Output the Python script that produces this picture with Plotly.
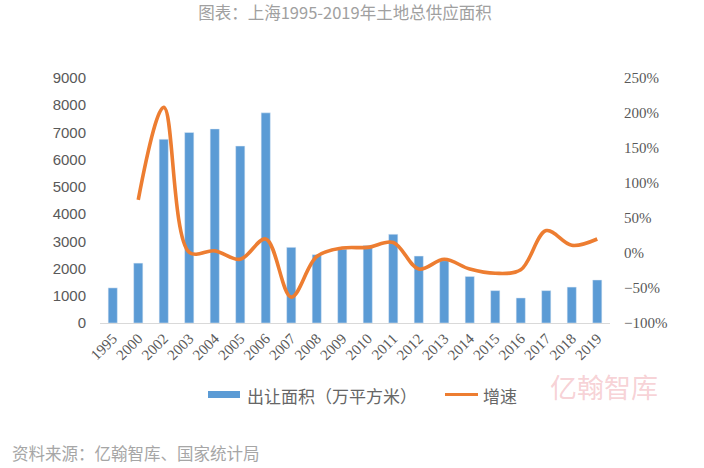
import plotly.graph_objects as go

years = ["1995", "2000", "2002", "2003", "2004", "2005", "2006", "2007", "2008", "2009",
         "2010", "2011", "2012", "2013", "2014", "2015", "2016", "2017", "2018", "2019"]
area = [1290, 2200, 6750, 7000, 7130, 6500, 7720, 2780, 2510, 2710,
        2850, 3260, 2460, 2290, 1710, 1190, 920, 1190, 1320, 1580]
growth_years = years[1:]
growth = [76, 208, 1, 3, -9, 20, -63, -5, 7, 8,
          15, -23, -9, -23, -29, -24, 32, 11, 20]

BAR = "#5B9BD5"
LINE = "#ED7D31"
TXT = "#595959"
CJK = "Noto Sans CJK SC"

fig = go.Figure()
fig.add_trace(go.Bar(x=years, y=area, name="出让面积（万平方米）", marker_color=BAR,
                     width=0.36, yaxis="y"))
fig.add_trace(go.Scatter(x=growth_years, y=growth, name="增速", mode="lines",
                         line=dict(color=LINE, width=3.6, shape="spline", smoothing=1.0),
                         yaxis="y2"))

def px_x(p):
    return (p - 100) / 510.0

def px_y(p):
    return (323 - p) / 245.0

fig.update_layout(
    width=704, height=468,
    margin=dict(l=100, r=94, t=78, b=145),
    paper_bgcolor="white", plot_bgcolor="white",
    showlegend=False,
    title=dict(text="图表：上海1995-2019年土地总供应面积", x=0.49, xanchor="center",
               y=1 - 13 / 468, yanchor="middle", xref="container", yref="container",
               font=dict(family=CJK, size=16.5, color="#a0a0a0")),
    xaxis=dict(type="category", tickangle=-45, showline=True, linecolor="#d9d9d9",
               linewidth=1, ticks="", showgrid=False,
               tickfont=dict(family="Liberation Serif", size=15, color=TXT)),
    yaxis=dict(range=[0, 9000], dtick=1000, showgrid=False, zeroline=False,
               tickfont=dict(family="Liberation Sans", size=15, color=TXT),
               ticks="", ticklabelstandoff=13),
    yaxis2=dict(range=[-100, 250], dtick=50, overlaying="y", side="right",
                showgrid=False, zeroline=False, ticksuffix="%", ticks="",
                ticklabelstandoff=13,
                tickfont=dict(family="Liberation Serif", size=15, color=TXT)),
    bargap=0.6,
)

shapes = [
    dict(type="rect", xref="paper", yref="paper", x0=px_x(208), x1=px_x(240),
         y0=px_y(398), y1=px_y(391), fillcolor=BAR, line=dict(width=0)),
    dict(type="line", xref="paper", yref="paper", x0=px_x(445), x1=px_x(478),
         y0=px_y(394.5), y1=px_y(394.5), line=dict(color=LINE, width=3)),
]
fig.update_layout(shapes=shapes)

annotations = [
    dict(text="出让面积（万平方米）", xref="paper", yref="paper", x=px_x(245), y=px_y(395),
         xanchor="left", yanchor="middle", showarrow=False,
         font=dict(family=CJK, size=17, color="#666666")),
    dict(text="增速", xref="paper", yref="paper", x=px_x(481), y=px_y(395),
         xanchor="left", yanchor="middle", showarrow=False,
         font=dict(family=CJK, size=17, color="#666666")),
    dict(text="亿翰智库", xref="paper", yref="paper", x=px_x(548), y=px_y(386),
         xanchor="left", yanchor="middle", showarrow=False,
         font=dict(family=CJK, size=27, color="rgba(235,140,150,0.4)")),
    dict(text="资料来源：亿翰智库、国家统计局", xref="paper", yref="paper", x=px_x(10), y=px_y(453),
         xanchor="left", yanchor="middle", showarrow=False,
         font=dict(family=CJK, size=16.5, color="#a6a6a6")),
]
fig.update_layout(annotations=annotations)

fig.write_html("out.html")
